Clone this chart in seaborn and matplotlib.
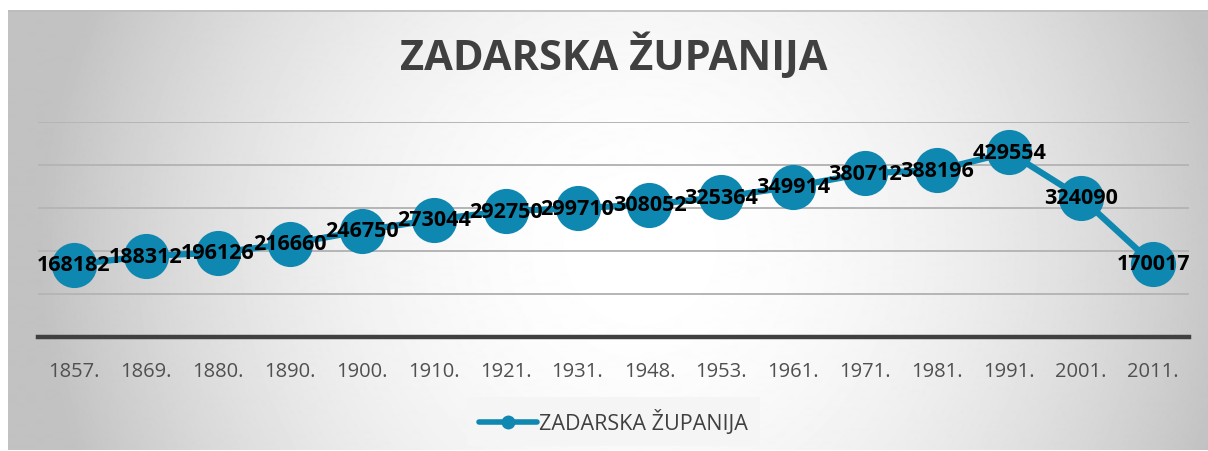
import matplotlib
matplotlib.use("Agg")
import matplotlib.pyplot as plt
import numpy as np
import pandas as pd
import seaborn as sns
from matplotlib.lines import Line2D

years = ["1857.", "1869.", "1880.", "1890.", "1900.", "1910.", "1921.", "1931.",
         "1948.", "1953.", "1961.", "1971.", "1981.", "1991.", "2001.", "2011."]
population = [168182, 188312, 196126, 216660, 246750, 273044, 292750, 299710,
              308052, 325364, 349914, 380712, 388196, 429554, 324090, 170017]
series_name = "ZADARSKA ŽUPANIJA"

blue = "#0e87b1"
dark = "#404040"

sns.set_theme(style="white")
plt.rcParams['font.family'] = ['Open Sans', 'DejaVu Sans']

fig = plt.figure(figsize=(12.08, 4.52), dpi=100)
fig.patch.set_facecolor("white")

# radial gradient panel behind the chart
bg = fig.add_axes([8 / 1208, 0, 1 - 8 / 1208, (452 - 11) / 452], zorder=0)
w, h = 1200, 441
xx, yy = np.meshgrid(np.arange(w), np.arange(h))
r = np.hypot(xx - 632, yy - 240) / 600
shade = np.clip(1 - 0.24 * r ** 2, 0.76, 1)
bg.imshow(shade, cmap="gray", vmin=0, vmax=1, aspect="auto", interpolation="bilinear")
bg.axis("off")
bg.plot([0, w], [0.5, 0.5], color="#bdbdbd", lw=1.2)
bg.set_xlim(0, w)
bg.set_ylim(h, 0)

ax = fig.add_axes([38 / 1208, (452 - 338) / 452, (1189 - 38) / 1208, (338 - 123) / 452], zorder=1)
ax.patch.set_alpha(0)

df = pd.DataFrame({"year": years, "pop": population})
sns.lineplot(data=df, x="year", y="pop", sort=False, ax=ax, color=blue, lw=4.5,
             marker="o", markersize=32.5, markeredgewidth=0, zorder=3)

for i, v in enumerate(population):
    ax.text(i, v, str(v), ha="center", va="center", fontsize=15.5, fontweight="bold",
            color="black", zorder=4)

ax.set_xlim(-0.5, len(years) - 0.5)
ax.set_ylim(0, 500000)
for g in range(100000, 500001, 100000):
    ax.axhline(g, color="#b5b5b5", lw=1.4, zorder=1)
ax.set_yticks([])
ax.set_xlabel("")
ax.set_ylabel("")
for s in ["top", "right", "left"]:
    ax.spines[s].set_visible(False)
ax.spines["bottom"].set_color(dark)
ax.spines["bottom"].set_linewidth(3.2)
ax.tick_params(axis="x", length=0, pad=17, labelsize=14.5, labelcolor="#505050")

fig.text(0.508, (452 - 70) / 452, series_name, ha="center", va="baseline",
         fontsize=30, fontweight="bold", color=dark)

handle = Line2D([], [], color=blue, lw=4, marker="o", markersize=10, markeredgewidth=0,
                solid_capstyle="round")
leg = fig.legend([handle], [series_name], loc="center", bbox_to_anchor=(0.508, 0.065),
                 fontsize=15.5, handlelength=2.7, handletextpad=0.1, frameon=True,
                 fancybox=False, borderpad=0.55, borderaxespad=0)
leg.get_frame().set_facecolor("#f5f5f5")
leg.get_frame().set_edgecolor("none")
leg.get_frame().set_alpha(1)
for t in leg.get_texts():
    t.set_color(dark)

fig.savefig("out.png", dpi=100)
